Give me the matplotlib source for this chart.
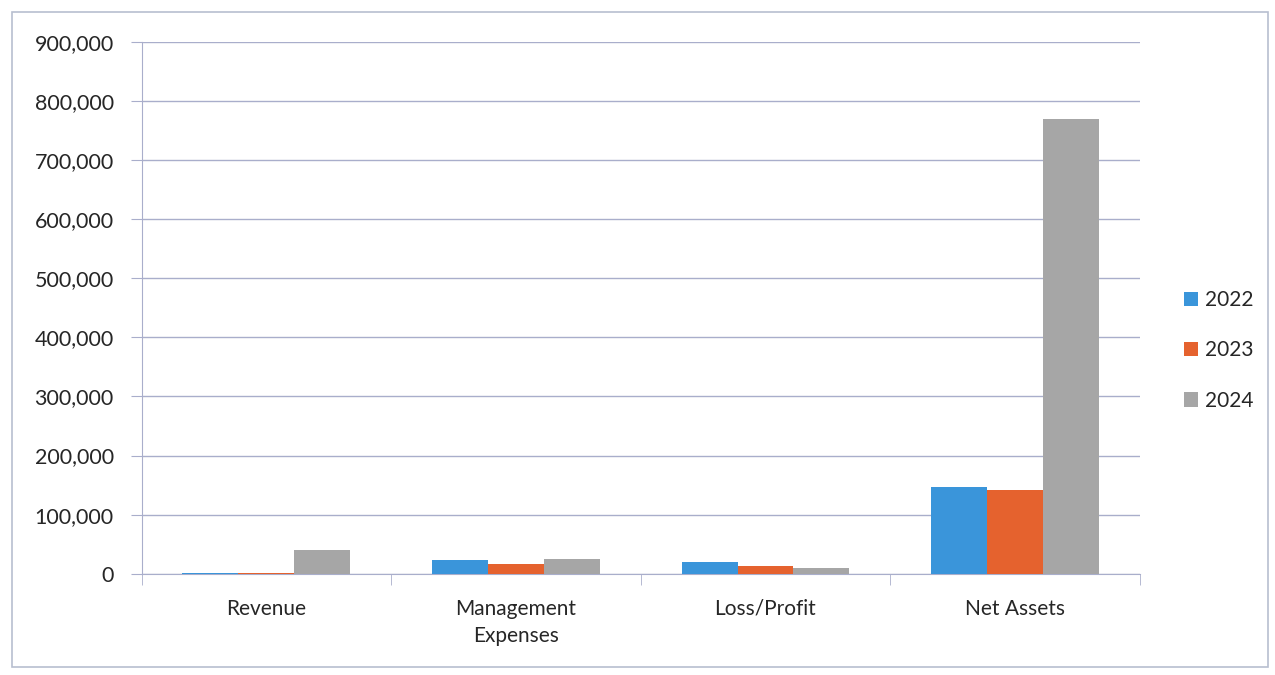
# Financial summary bar chart, 2022-2024

import numpy
import matplotlib
matplotlib.use("Agg")
import matplotlib.pyplot as plt
from matplotlib.ticker import FuncFormatter, FixedLocator
from matplotlib.patches import Rectangle

categories = ["Revenue", "Management\nExpenses", "Loss/Profit", "Net Assets"]
years = ["2022", "2023", "2024"]
vals_2022 = [2000, 24000, 20000, 147000]
vals_2023 = [1500, 16000, 13000, 142000]
vals_2024 = [41000, 25000, 10000, 770000]
colors = ["#3a95da", "#e5622e", "#a6a6a6"]

plt.rcParams["font.family"] = ["Lato", "DejaVu Sans"]

fig = plt.figure(figsize=(12.75, 6.75), dpi=100)
ax = fig.add_axes([0.111, 0.150, 0.783, 0.788])

x = numpy.arange(len(categories))
w = 0.224
for i, (yr, vals) in enumerate(zip(years, [vals_2022, vals_2023, vals_2024])):
    ax.bar(x + (i - 1) * w, vals, width=w, color=colors[i], label=yr, zorder=3)

ax.set_xlim(-0.5, len(categories) - 0.5)
ax.set_ylim(0, 900000)
ax.set_yticks(numpy.arange(0, 900001, 100000))
ax.yaxis.set_major_formatter(FuncFormatter(lambda v, p: "{:,.0f}".format(v)))
ax.grid(axis="y", color="#a9aecb", linewidth=1.0, zorder=0)

ax.set_xticks(x)
ax.set_xticklabels(categories, fontsize=15, color="#262626", linespacing=1.45)
ax.xaxis.set_minor_locator(FixedLocator(numpy.arange(-0.5, len(categories), 1.0)))
ax.tick_params(axis="x", which="major", length=0, pad=18)
ax.tick_params(axis="x", which="minor", length=8, color="#a9aecb", direction="out")
ax.tick_params(axis="y", length=8, color="#a9aecb", labelsize=15.5,
               labelcolor="#262626", pad=12)

for s in ["top", "right"]:
    ax.spines[s].set_visible(False)
for s in ["left", "bottom"]:
    ax.spines[s].set_color("#a9aecb")

leg = ax.legend(loc="center left", bbox_to_anchor=(1.025, 0.42), frameon=False,
                fontsize=15, handlelength=0.7, handleheight=0.7,
                handletextpad=0.35, labelspacing=1.45)
for t in leg.get_texts():
    t.set_color("#262626")

# outer chart border
fig.patches.append(Rectangle((12 / 1275, 8 / 675), 1256 / 1275, 655 / 675,
                             transform=fig.transFigure, fill=False,
                             edgecolor="#b8bfd0", linewidth=1.2))

plt.savefig("out.png", dpi=100)
plt.close()
